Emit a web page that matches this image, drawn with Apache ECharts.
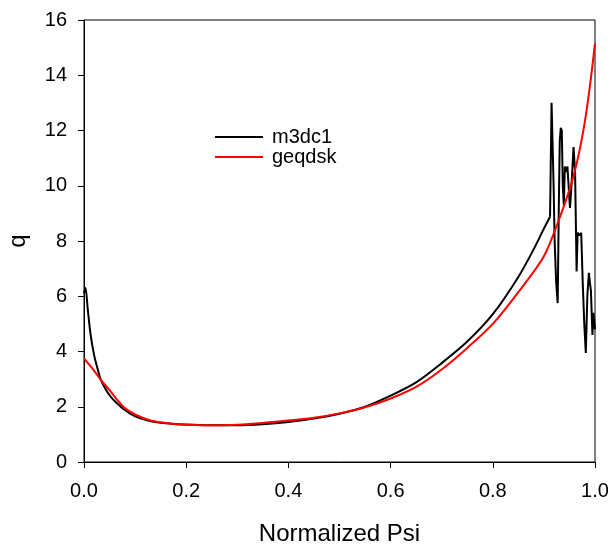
<!DOCTYPE html>
<html>
<head>
<meta charset="UTF-8">
<title>q profile</title>
<style>
  body { margin: 0; padding: 0; background: #fff; }
  #chart { width: 612px; height: 545px; }
</style>
</head>
<body>
<div id="chart"></div>
<script src="https://cdn.jsdelivr.net/npm/echarts@6/dist/echarts.min.js"></script>
<script>
// m3dc1 q profile, smooth part (core)
var m3dcPsi = [0.000, 0.003, 0.007, 0.013, 0.020, 0.027, 0.033, 0.045, 0.055, 0.065, 0.080, 0.100,
  0.125, 0.150, 0.175, 0.200, 0.250, 0.300, 0.350, 0.400, 0.450, 0.500, 0.550, 0.600, 0.650,
  0.700, 0.750, 0.800, 0.850, 0.880, 0.900, 0.912];
var m3dcQ = [6.1, 6.3, 5.6, 4.6, 3.85, 3.35, 2.97, 2.55, 2.3, 2.12, 1.88, 1.65,
  1.5, 1.42, 1.38, 1.36, 1.33, 1.33, 1.37, 1.45, 1.57, 1.75, 2.0, 2.4, 2.88,
  3.58, 4.36, 5.35, 6.7, 7.7, 8.45, 8.88];

// m3dc1 noisy edge
var m3dcEdgePsi = [0.912, 0.913, 0.915, 0.917, 0.919, 0.921, 0.924, 0.927, 0.929, 0.931, 0.933,
  0.935, 0.937, 0.939, 0.941, 0.943, 0.946, 0.949, 0.951, 0.954, 0.958, 0.961, 0.964, 0.966,
  0.970, 0.973, 0.976, 0.979, 0.982, 0.985, 0.988, 0.990, 0.992, 0.995, 0.997, 1.000];
var m3dcEdgeQ = [8.88, 10.2, 13.0, 11.5, 10.0, 8.0, 6.5, 5.75, 9.0, 11.6, 12.1,
  12.0, 10.0, 9.3, 10.7, 10.5, 10.7, 9.8, 9.2, 10.0, 11.4, 10.5, 6.9, 8.3,
  8.2, 8.3, 6.5, 5.0, 3.95, 6.0, 6.85, 6.5, 6.2, 4.6, 5.4, 4.8];

// geqdsk q profile
var geqPsi = [0.000, 0.020, 0.033, 0.050, 0.065, 0.080, 0.100, 0.130, 0.150, 0.180, 0.200, 0.250,
  0.300, 0.350, 0.400, 0.450, 0.500, 0.550, 0.600, 0.650, 0.700, 0.750, 0.800, 0.850, 0.900,
  0.930, 0.950, 0.960, 0.970, 0.980, 0.990, 1.000];
var geqQ = [3.75, 3.3, 2.97, 2.6, 2.25, 1.95, 1.72, 1.5, 1.44, 1.37, 1.35, 1.33,
  1.35, 1.41, 1.5, 1.6, 1.76, 1.98, 2.3, 2.72, 3.35, 4.13, 5.0, 6.15, 7.45,
  8.8, 9.85, 10.5, 11.3, 12.3, 13.6, 15.15];

function pairs(xs, ys) {
  var out = [];
  for (var i = 0; i < xs.length; i++) out.push([xs[i], ys[i]]);
  return out;
}

var font = 'Liberation Sans, Arial, sans-serif';
var chart = echarts.init(document.getElementById('chart'));
chart.setOption({
  backgroundColor: '#fff',
  animation: false,
  grid: {
    left: 84, right: 17, top: 20, bottom: 83, outerBoundsMode: 'none', containLabel: false,
    show: true, borderColor: '#000', borderWidth: 1
  },
  legend: {
    orient: 'vertical', left: 210, top: 122, icon: 'rect', itemWidth: 48, itemHeight: 2, itemGap: 0,
    textStyle: { fontFamily: font, fontSize: 20, lineHeight: 20, color: '#000', padding: [0, 0, 0, 4] },
    data: ['m3dc1', 'geqdsk']
  },
  xAxis: {
    type: 'value', min: 0, max: 1, interval: 0.2,
    name: 'Normalized Psi', nameLocation: 'middle', nameGap: 60,
    nameTextStyle: { fontFamily: font, fontSize: 24, color: '#000' },
    axisLine: { show: true, lineStyle: { color: '#000', width: 1 } },
    axisTick: { show: true, length: 6, lineStyle: { color: '#000' } },
    axisLabel: { fontFamily: font, fontSize: 20, color: '#000', margin: 19,
      formatter: function (v) { return v.toFixed(1); } },
    splitLine: { show: false }
  },
  yAxis: {
    type: 'value', min: 0, max: 16, interval: 2,
    name: 'q', nameLocation: 'middle', nameGap: 54,
    nameTextStyle: { fontFamily: font, fontSize: 24, color: '#000' },
    axisLine: { show: true, lineStyle: { color: '#000', width: 1 } },
    axisTick: { show: true, length: 6, lineStyle: { color: '#000' } },
    axisLabel: { fontFamily: font, fontSize: 20, color: '#000', margin: 17 },
    splitLine: { show: false }
  },
  series: [
    {
      name: 'm3dc1', type: 'line', data: pairs(m3dcPsi, m3dcQ), showSymbol: false, symbol: 'none', smooth: 0.3,
      lineStyle: { color: '#000', width: 2 }, itemStyle: { color: '#000' }
    },
    {
      name: 'm3dc1', type: 'line', data: pairs(m3dcEdgePsi, m3dcEdgeQ), showSymbol: false, symbol: 'none',
      lineStyle: { color: '#000', width: 2 }, itemStyle: { color: '#000' }
    },
    {
      name: 'geqdsk', type: 'line', data: pairs(geqPsi, geqQ), showSymbol: false, symbol: 'none', smooth: 0.3,
      lineStyle: { color: '#ff0000', width: 2 }, itemStyle: { color: '#ff0000' }
    }
  ]
});
</script>
</body>
</html>
